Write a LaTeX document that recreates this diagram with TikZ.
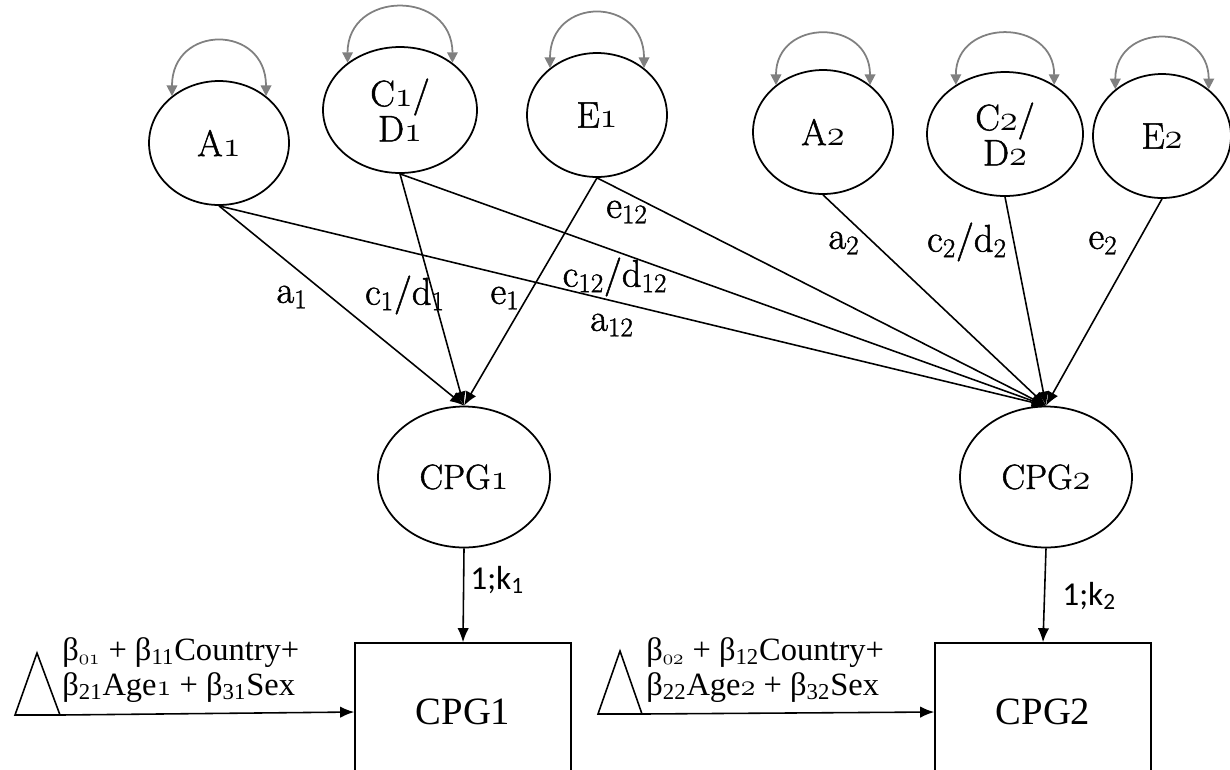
\documentclass[tikz,border=0pt]{standalone}
\usepackage{fontspec}
\usetikzlibrary{arrows.meta,shapes.geometric}
\newfontfamily\tnr{Liberation Serif}
\newfontfamily\carl{Carlito}
\newfontfamily\geo{Latin Modern Roman}[FakeBold=1.3]
\newcommand\os[1]{{\usefont{OML}{cmm}{m}{it}#1}}
\begin{document}
\begin{tikzpicture}[x=0.02cm,y=-0.02cm,
  lat/.style={draw,ellipse,line width=1pt,inner sep=0pt,align=center,
    font=\geo\fontsize{21}{20}\selectfont},
  pth/.style={line width=0.9pt,-{Latex[length=8pt,width=6.5pt]}},
  var/.style={draw=gray,line width=1pt,
    {Triangle[length=6pt,width=6pt,fill=gray]}-{Triangle[length=6pt,width=6pt,fill=gray]}},
  lab/.style={font=\geo\fontsize{22}{24}\selectfont,inner sep=0pt},
  ld/.style={font=\carl\fontsize{19}{21}\selectfont,inner sep=0pt},
  obs/.style={draw,line width=0.9pt,minimum width=4.32cm,minimum height=2.76cm,inner sep=0pt,
    font=\tnr\fontsize{22}{24}\selectfont},
  cov/.style={font=\tnr\fontsize{18.5}{19}\selectfont,inner sep=0pt,anchor=base west}
]
\useasboundingbox (0,0) rectangle (1230,769);
\fill[white] (0,0) rectangle (1230,769);

% latent factors
\node[lat,minimum width=2.8cm,minimum height=2.48cm] (A1) at (219,143) {A\os{1}};
\node[lat,minimum width=3.08cm,minimum height=2.52cm] (CD1) at (400,110) {C\os{1}/\\D\os{1}};
\node[lat,minimum width=2.8cm,minimum height=2.48cm] (E1) at (597,115) {E\os{1}};
\node[lat,minimum width=2.8cm,minimum height=2.48cm] (A2) at (823,132) {A\os{2}};
\node[lat,minimum width=3.12cm,minimum height=2.48cm] (CD2) at (1005,134) {C\os{2}/\\D\os{2}};
\node[lat,minimum width=2.76cm,minimum height=2.48cm] (E2) at (1162,136) {E\os{2}};

\node[lat,minimum width=3.44cm,minimum height=2.82cm,font=\geo\fontsize{20}{22}\selectfont] (L1) at (464,477) {CPG\os{1}};
\node[lat,minimum width=3.44cm,minimum height=2.82cm,font=\geo\fontsize{20}{22}\selectfont] (L2) at (1046,477) {CPG\os{2}};

% observed
\node[obs] (B1) at (463,712) {CPG1};
\node[obs] (B2) at (1043,712) {CPG2};

% variance loops
\draw[var] (A1.135) .. controls +(0,-72) and +(0,-72) .. (A1.45);
\draw[var] (CD1.138) .. controls +(0,-73) and +(0,-73) .. (CD1.42);
\draw[var] (E1.135) .. controls +(0,-72) and +(0,-72) .. (E1.45);
\draw[var] (A2.135) .. controls +(0,-67) and +(0,-67) .. (A2.45);
\draw[var] (CD2.135) .. controls +(0,-67) and +(0,-67) .. (CD2.45);
\draw[var] (E2.135) .. controls +(0,-67) and +(0,-67) .. (E2.45);

% paths
\draw[pth] (A1.south) -- (L1.north);
\draw[pth] (CD1.south) -- (L1.north);
\draw[pth] (E1.south) -- (L1.north);
\draw[pth] (A1.south) -- (L2.north);
\draw[pth] (CD1.south) -- (L2.north);
\draw[pth] (E1.south) -- (L2.north);
\draw[pth] (A2.south) -- (L2.north);
\draw[pth] (CD2.south) -- (L2.north);
\draw[pth] (E2.south) -- (L2.north);

% path labels
\node[lab] (la1) at (292,297) {a\textsubscript{1}};
\node[lab] (lc1) at (405,295) {c\textsubscript{1}/d\textsubscript{1}};
\node[lab] (le1) at (505,298) {e\textsubscript{1}};
\node[lab] (la12) at (612,325) {a\textsubscript{12}};
\node[lab] (lc12) at (615,277) {c\textsubscript{12}/d\textsubscript{12}};
\node[lab] (le12) at (627,212) {e\textsubscript{12}};
\node[lab] (la2) at (844,243) {a\textsubscript{2}};
\node[lab] (lc2) at (967,242) {c\textsubscript{2}/d\textsubscript{2}};
\node[lab] (le2) at (1103,243) {e\textsubscript{2}};

% loadings
\draw[pth] (L1.south) -- (B1.north);
\draw[pth] (L2.south) -- (B2.north);
\node[ld,anchor=west] (k1) at (470,580) {1;k\textsubscript{1}};
\node[ld,anchor=west] (k2) at (1062,596) {1;k\textsubscript{2}};

% means triangles
\coordinate (T1a) at (37,653);
\coordinate (T1l) at (15,715);
\coordinate (T1r) at (60,715);
\draw[line width=0.9pt] (T1a) -- (T1l) -- (T1r) -- cycle;
\coordinate (T2a) at (620,651);
\coordinate (T2l) at (598,714);
\coordinate (T2r) at (642,714);
\draw[line width=0.9pt] (T2a) -- (T2l) -- (T2r) -- cycle;
\draw[pth] (T1r) -- (B1.west);
\draw[pth] (T2r) -- (B2.west);

\node[cov] (m1a) at (62,660) {β\textsubscript{\os{01}} + β\textsubscript{11}Country+};
\node[cov] (m1b) at (62,695) {β\textsubscript{21}Age\os{1} + β\textsubscript{31}Sex};
\node[cov] (m2a) at (646,660) {β\textsubscript{\os{02}} + β\textsubscript{12}Country+};
\node[cov] (m2b) at (646,695) {β\textsubscript{22}Age\os{2} + β\textsubscript{32}Sex};
\end{tikzpicture}
\end{document}
